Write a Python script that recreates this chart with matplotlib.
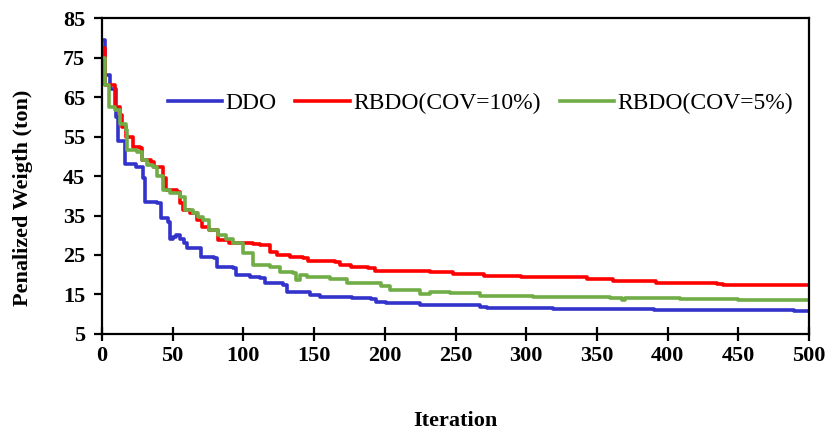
import matplotlib
matplotlib.use("Agg")
import matplotlib.pyplot as plt

# iteration breakpoints and penalized weight (ton)
ddo_x = [0, 2, 6, 10, 11, 16, 24, 29, 30.5, 39, 42, 47, 48, 50, 52, 55, 58, 60, 70, 79, 81, 93, 95, 105,
         112, 115, 128, 131, 147, 154, 177, 190, 194, 201, 225, 267, 272, 319, 390, 420, 489, 500]
ddo_y = [79.5, 70.5, 67, 60, 54, 48, 47.4, 44.5, 38.5, 38.2, 34.4, 33.4, 29, 29.5, 30, 29, 28, 26.8, 24.6, 24.2,
         22, 21.7, 19.9, 19.5, 19.2, 17.9, 17.4, 15.7, 14.9, 14.4, 14.1, 13.9, 13.2, 12.9, 12.3, 11.8, 11.6, 11.3,
         11.1, 11.0, 10.9, 10.9]

rbdo10_x = [0, 2, 9, 13, 14, 17, 22, 27, 28, 35, 37, 43, 45, 53, 55, 57.5, 62, 67, 70.5, 76, 82, 90, 107, 112,
            119, 124, 133, 142, 146, 165, 168, 176, 188, 193, 232, 248, 270, 296, 343, 361, 392, 435, 439, 500]
rbdo10_y = [77.5, 68, 62.5, 60.4, 57.5, 55, 52.4, 52, 49, 48.5, 47.4, 44.5, 41.5, 41, 38.2, 36.4, 35.6, 33.9,
            32.2, 31.3, 28.8, 28, 27.8, 27.5, 25.8, 25, 24.6, 24.2, 23.5, 23.1, 22.5, 22, 21.7, 21, 20.8, 20.2,
            19.7, 19.5, 18.9, 18.3, 17.9, 17.7, 17.4, 17.4]

rbdo5_x = [0, 2, 5, 9, 13, 17, 18, 25, 28, 32, 36, 39, 43, 48, 55, 58.5, 64.5, 68, 71.5, 76, 82, 88, 93, 100,
           107, 119, 126, 135, 137, 140, 145, 161, 173, 197, 204, 225, 232, 246, 267, 296, 305, 359, 368, 370,
           409, 450, 500]
rbdo5_y = [75, 68, 62.5, 61.7, 58.3, 56.6, 51.6, 51.2, 49, 47.8, 47.2, 45, 41.5, 40.7, 39.8, 36.4, 35.6, 34.5,
           33.9, 31.3, 30, 29, 28, 25.5, 22.5, 22, 20.8, 20.4, 18.7, 19.9, 19.3, 18.9, 17.8, 17.2, 16.1, 15.1,
           15.5, 15.3, 14.6, 14.5, 14.3, 14.0, 13.6, 14.0, 13.8, 13.6, 13.5]

labels = ["DDO", "RBDO(COV=10%)", "RBDO(COV=5%)"]
colors = ["#3333cc", "#ff0000", "#70ad47"]

plt.rcParams['font.family'] = ['Liberation Serif', 'DejaVu Serif']

fig = plt.figure(figsize=(8.29, 4.32), dpi=100)
ax = fig.add_axes([0.123, 0.227, 0.853, 0.731])

for xs, ys, lab, col in zip([ddo_x, rbdo10_x, rbdo5_x], [ddo_y, rbdo10_y, rbdo5_y], labels, colors):
    ax.plot(xs, ys, drawstyle='steps-post', color=col, lw=2.6, label=lab)

ax.set_xlim(0, 500)
ax.set_ylim(5, 85)
ax.set_xticks(range(0, 501, 50))
ax.set_yticks(range(5, 86, 10))

for sp in ax.spines.values():
    sp.set_linewidth(1.6)

ax.tick_params(axis='x', direction='inout', length=10, width=1.6, labelsize=16, pad=4)
ax.tick_params(axis='y', direction='out', length=6, width=1.6, labelsize=16, pad=6)
for t in ax.get_xticklabels() + ax.get_yticklabels():
    t.set_fontweight('bold')

ax.set_xlabel('Iteration', fontsize=16, fontweight='bold', labelpad=32)
ax.set_ylabel('Penalized Weigth (ton)', fontsize=16, fontweight='bold')
# в оригинале подпись оси y сдвинута чуть ниже центра
ax.yaxis.set_label_coords(-0.098, 0.43)

ax.legend(loc='center', bbox_to_anchor=(0.535, 0.731), ncol=3, frameon=False, fontsize=17,
          handlelength=2.3, handletextpad=0.15, columnspacing=0.8)

fig.savefig('out.png', dpi=100)
